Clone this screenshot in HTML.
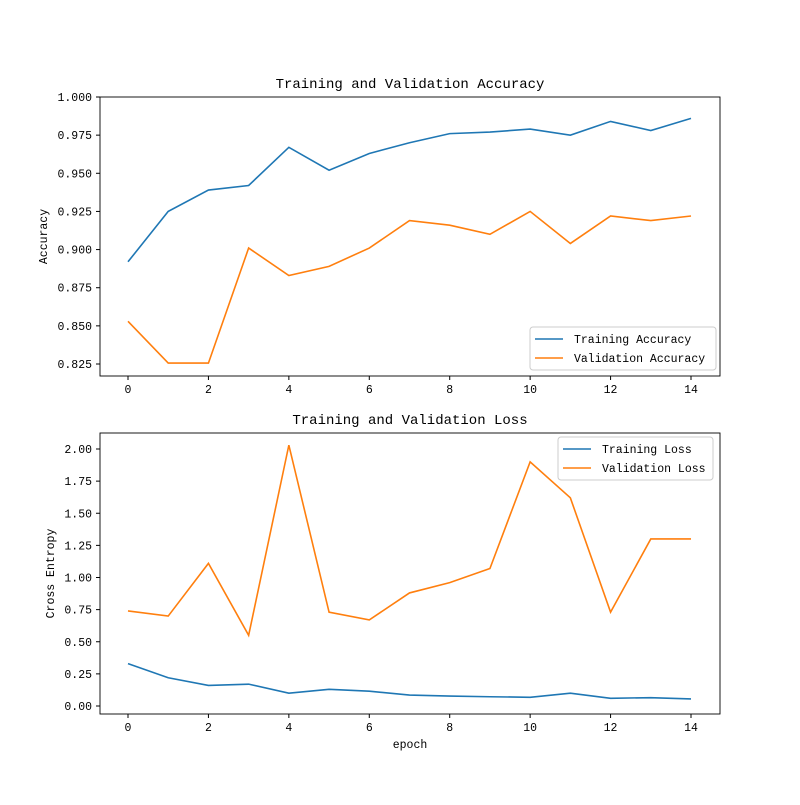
<!DOCTYPE html>
<html><head><meta charset="utf-8"><style>
body{margin:0;background:#fff}
svg text{font-family:"Liberation Mono","WenQuanYi Zen Hei",monospace;font-size:11.5px;fill:#000}
svg text.ttl{font-size:14px}
</style></head><body>
<svg id="c" width="800" height="800" xmlns="http://www.w3.org/2000/svg"></svg>
<script>
const epochs=[0,1,2,3,4,5,6,7,8,9,10,11,12,13,14];
const trainAcc=[0.892,0.925,0.939,0.942,0.967,0.952,0.963,0.970,0.976,0.977,0.979,0.975,0.984,0.978,0.986];
const valAcc=[0.853,0.8256,0.8256,0.901,0.883,0.889,0.901,0.919,0.916,0.910,0.925,0.904,0.922,0.919,0.922];
const trainLoss=[0.33,0.22,0.16,0.17,0.10,0.13,0.115,0.085,0.077,0.072,0.068,0.10,0.06,0.065,0.055];
const valLoss=[0.74,0.70,1.11,0.55,2.03,0.73,0.67,0.88,0.96,1.07,1.90,1.62,0.73,1.30,1.30];
const xTicks=[0,2,4,6,8,10,12,14];
const accTicks=[0.825,0.850,0.875,0.900,0.925,0.950,0.975,1.000];
const lossTicks=[0,0.25,0.5,0.75,1.0,1.25,1.5,1.75,2.0];
const NS="http://www.w3.org/2000/svg";
const svg=document.getElementById('c');
function mk(t,a,p){const e=document.createElementNS(NS,t);for(const k in a)e.setAttribute(k,a[k]);(p||svg).appendChild(e);return e;}
const xs=v=>128+v*(691-128)/14;
function panel(cfg){
  const g=mk('g',{});
  
  
  const {top,bot,ys}=cfg;
  const ttl=mk('text',{x:410,y:top-9,'text-anchor':'middle','class':'ttl'},g);ttl.textContent=cfg.title;
  
  xTicks.forEach(t=>{const x=xs(t);mk('line',{x1:x,x2:x,y1:bot,y2:bot+4,stroke:'#000'},g);
    const tx=mk('text',{x:x,y:bot+17,'text-anchor':'middle'},g);tx.textContent=t;
    });
  cfg.ticks.forEach(t=>{const y=ys(t);mk('line',{x1:96,x2:100,y1:y,y2:y,stroke:'#000'},g);
    const tx=mk('text',{x:92,y:y+4,'text-anchor':'end'},g);tx.textContent=t.toFixed(cfg.dec);
    });
  const yl=mk('text',{x:0,y:0,'text-anchor':'middle',transform:`translate(${cfg.ylx},${(top+bot)/2}) rotate(-90)`},g);yl.textContent=cfg.ylabel;
  
  cfg.series.forEach(s=>{
    const p=mk('polyline',{points:s.d.map((v,i)=>xs(epochs[i])+','+ys(v)).join(' '),fill:'none',stroke:s.c,'stroke-width':1.6},g);
    
  });
  mk('rect',{x:100,y:top,width:620,height:bot-top,fill:'none',stroke:'#000','stroke-width':0.9},g);
  const L=cfg.leg;
  const lg=mk('g',{},g);
  mk('rect',{x:L.x,y:L.y,width:L.w,height:43,fill:'#fff',stroke:'#ccc',rx:3},lg);
  cfg.series.forEach((s,i)=>{const y=L.y+12+i*19;
    mk('line',{x1:L.x+5,x2:L.x+33,y1:y,y2:y,stroke:s.c,'stroke-width':1.6},lg);
    const t=mk('text',{x:L.x+44,y:y+4},lg);t.textContent=s.label;
    });
}
panel({name:'accuracy-panel',title:'Training and Validation Accuracy',top:97,bot:376,dec:3,ylx:47,ylabel:'Accuracy',
  ys:v=>97+(1-v)/0.025*(364-97)/7,ticks:accTicks,leg:{x:530,y:327,w:186},
  series:[{id:'training-accuracy-line',d:trainAcc,c:'#1f77b4',label:'Training Accuracy'},{id:'validation-accuracy-line',d:valAcc,c:'#ff7f0e',label:'Validation Accuracy'}]});
panel({name:'loss-panel',title:'Training and Validation Loss',top:433,bot:714,dec:2,ylx:54,ylabel:'Cross Entropy',
  ys:v=>706-v*(706-449)/2,ticks:lossTicks,leg:{x:558,y:437,w:155},
  series:[{id:'training-loss-line',d:trainLoss,c:'#1f77b4',label:'Training Loss'},{id:'validation-loss-line',d:valLoss,c:'#ff7f0e',label:'Validation Loss'}]});
const xl=mk('text',{x:410,y:748,'text-anchor':'middle'});xl.textContent='epoch';


</script>
</body></html>
